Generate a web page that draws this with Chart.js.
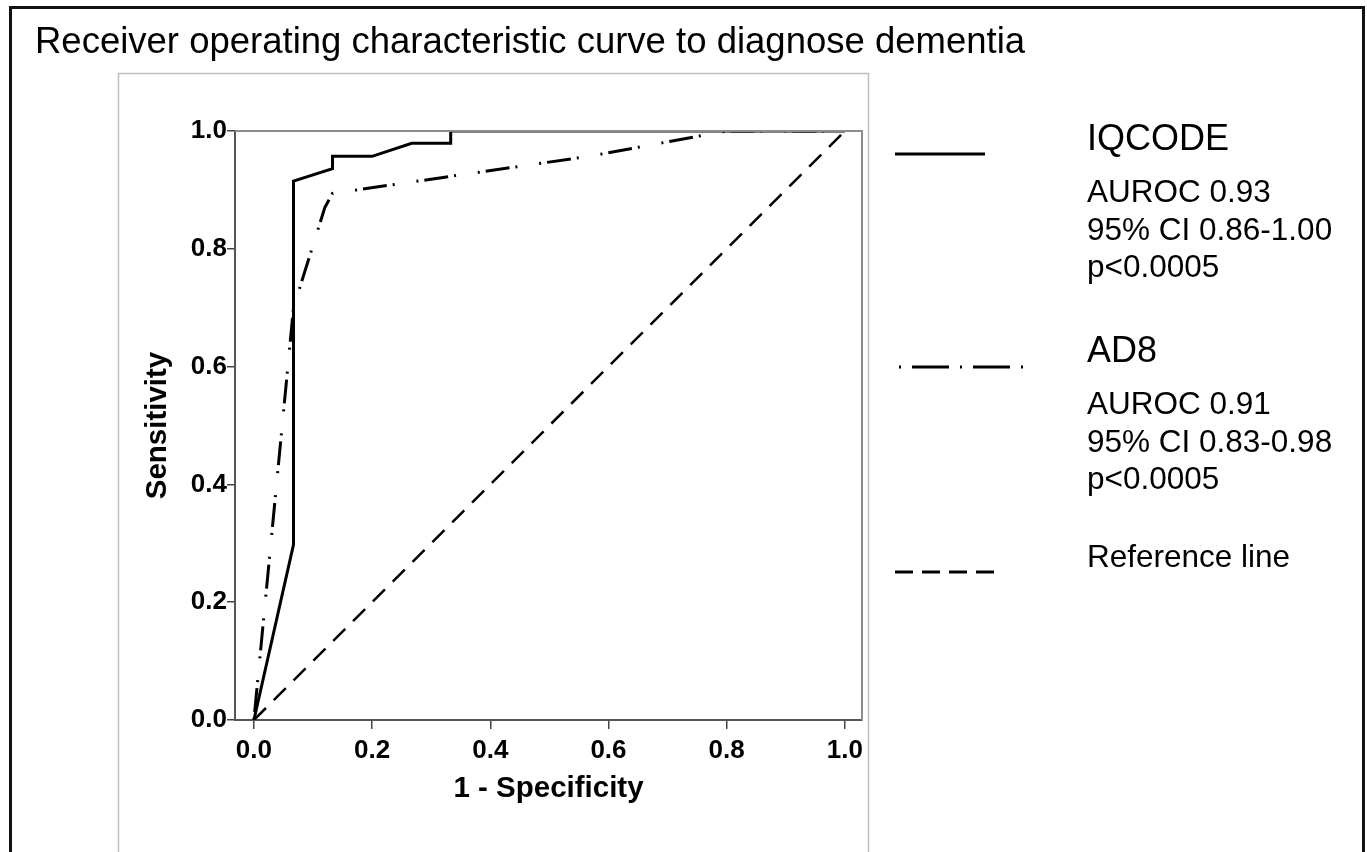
<!DOCTYPE html>
<html>
<head>
<meta charset="utf-8">
<title>ROC curve</title>
<script src="https://cdn.jsdelivr.net/npm/chart.js@4"></script>
<style>
  html, body { margin: 0; padding: 0; background: #fff; }
  #wrap { width: 1367px; height: 852px; }
</style>
</head>
<body>
<div id="wrap"><canvas id="roc" width="1367" height="852"></canvas></div>
<script>
// ROC curves (x = 1 - specificity, y = sensitivity)
const iqcodeX = [0, 0.067, 0.067, 0.133, 0.133, 0.2, 0.267, 0.333, 0.333, 1.0];
const iqcodeY = [0, 0.298, 0.915, 0.936, 0.957, 0.957, 0.979, 0.979, 1.0, 1.0];

const ad8X = [0, 0.067, 0.12, 0.133, 0.567, 0.8, 1.0];
const ad8Y = [0, 0.70, 0.87, 0.894, 0.957, 1.0, 1.0];

const refX = [0, 1];
const refY = [0, 1];

const tickValues = [0, 0.2, 0.4, 0.6, 0.8, 1.0];

const seriesNames = ['IQCODE', 'AD8', 'Reference line'];
const seriesStats = [
    ['AUROC 0.93', '95% CI 0.86-1.00', 'p<0.0005'],
    ['AUROC 0.91', '95% CI 0.83-0.98', 'p<0.0005'],
    []
];

const titleText = 'Receiver operating characteristic curve to diagnose dementia';

function toPoints(xs, ys) {
    return xs.map((x, i) => ({ x: x, y: ys[i] }));
}

const FONT = '"Liberation Sans", Arial, sans-serif';

// page frames, title and the text legend on the right
const decorPlugin = {
    id: 'decor',
    beforeDraw(chart) {
        const ctx = chart.ctx;
        ctx.save();
        ctx.fillStyle = '#fff';
        ctx.fillRect(0, 0, chart.width, chart.height);

        // outer border (open at the bottom)
        ctx.strokeStyle = '#111';
        ctx.lineWidth = 3;
        ctx.beginPath();
        ctx.moveTo(10.5, 852);
        ctx.lineTo(10.5, 7.5);
        ctx.lineTo(1363.5, 7.5);
        ctx.lineTo(1363.5, 852);
        ctx.stroke();

        // inner gray frame of the chart panel
        ctx.strokeStyle = '#bdbdbd';
        ctx.lineWidth = 1.5;
        ctx.beginPath();
        ctx.moveTo(118.5, 852);
        ctx.lineTo(118.5, 73.5);
        ctx.lineTo(868.5, 73.5);
        ctx.lineTo(868.5, 852);
        ctx.stroke();

        ctx.fillStyle = '#000';
        ctx.font = '36.5px ' + FONT;
        ctx.textBaseline = 'alphabetic';
        ctx.fillText(titleText, 35, 53);
        ctx.restore();
    },
    afterDatasetsDraw(chart) {
        const ctx = chart.ctx;
        const a = chart.chartArea;
        ctx.save();
        // top and right edges of the plot box
        ctx.strokeStyle = '#8c8c8c';
        ctx.lineWidth = 2;
        ctx.beginPath();
        ctx.moveTo(a.left, a.top);
        ctx.lineTo(a.right, a.top);
        ctx.lineTo(a.right, a.bottom);
        ctx.stroke();

        // legend samples and texts
        const sampleY = [154, 367, 572];
        const sampleX = [[895, 985], [899, 1026], [895, 994]];
        const sampleDash = [[], [2, 11, 37, 11], [18, 9]];
        const headY = [150, 362, 567];
        const headSize = [36, 36, 31.5];
        chart.data.datasets.forEach((ds, i) => {
            ctx.strokeStyle = '#000';
            ctx.lineWidth = 3;
            ctx.setLineDash(sampleDash[i]);
            ctx.beginPath();
            ctx.moveTo(sampleX[i][0], sampleY[i]);
            ctx.lineTo(sampleX[i][1], sampleY[i]);
            ctx.stroke();
            ctx.setLineDash([]);

            ctx.fillStyle = '#000';
            ctx.textBaseline = 'alphabetic';
            ctx.font = headSize[i] + 'px ' + FONT;
            ctx.fillText(seriesNames[i], 1087, headY[i]);
            ctx.font = '31.5px ' + FONT;
            seriesStats[i].forEach((line, j) => {
                ctx.fillText(line, 1087, headY[i] + 52 + j * 37.5);
            });
        });
        ctx.restore();
    }
};

const fixedTicks = scale => {
    scale.ticks = tickValues.map(v => ({ value: v }));
};

new Chart(document.getElementById('roc'), {
    type: 'scatter',
    data: {
        datasets: [
            {
                label: 'IQCODE',
                data: toPoints(iqcodeX, iqcodeY),
                showLine: true,
                borderColor: '#000',
                borderWidth: 3,
                pointRadius: 0,
                tension: 0
            },
            {
                label: 'AD8',
                data: toPoints(ad8X, ad8Y),
                showLine: true,
                borderColor: '#000',
                borderWidth: 3,
                borderDash: [2, 6, 24, 6, 2, 22],
                pointRadius: 0,
                tension: 0
            },
            {
                label: 'Reference line',
                data: toPoints(refX, refY),
                showLine: true,
                borderColor: '#000',
                borderWidth: 2.5,
                borderDash: [17, 11],
                pointRadius: 0,
                tension: 0
            }
        ]
    },
    options: {
        responsive: false,
        animation: false,
        devicePixelRatio: 1,
        layout: {
            padding: { left: 140, top: 131, right: 505, bottom: 45 }
        },
        scales: {
            x: {
                type: 'linear',
                min: -0.032,
                max: 1.029,
                afterBuildTicks: fixedTicks,
                afterFit: s => { s.height = 87; },
                grid: { drawOnChartArea: false, drawTicks: true, tickLength: 9, color: '#444', lineWidth: 1.5 },
                border: { display: true, color: '#555', width: 2 },
                ticks: {
                    color: '#000',
                    padding: 6,
                    maxRotation: 0,
                    font: { family: FONT, size: 26, weight: 'bold' },
                    callback: v => v.toFixed(1)
                },
                title: {
                    display: true,
                    text: '1 - Specificity',
                    color: '#000',
                    padding: 0,
                    font: { family: FONT, size: 29.5, weight: 'bold' }
                }
            },
            y: {
                type: 'linear',
                min: 0,
                max: 1,
                afterBuildTicks: fixedTicks,
                afterFit: s => { s.width = 95; },
                grid: { drawOnChartArea: false, drawTicks: true, tickLength: 8, color: '#444', lineWidth: 1.5 },
                border: { display: true, color: '#555', width: 2 },
                ticks: {
                    color: '#000',
                    padding: 0,
                    font: { family: FONT, size: 26, weight: 'bold' },
                    callback: v => v.toFixed(1)
                },
                title: {
                    display: true,
                    text: 'Sensitivity',
                    color: '#000',
                    padding: 0,
                    font: { family: FONT, size: 29.5, weight: 'bold' }
                }
            }
        },
        plugins: {
            legend: { display: false },
            tooltip: { enabled: false }
        }
    },
    plugins: [decorPlugin]
});
</script>
</body>
</html>
